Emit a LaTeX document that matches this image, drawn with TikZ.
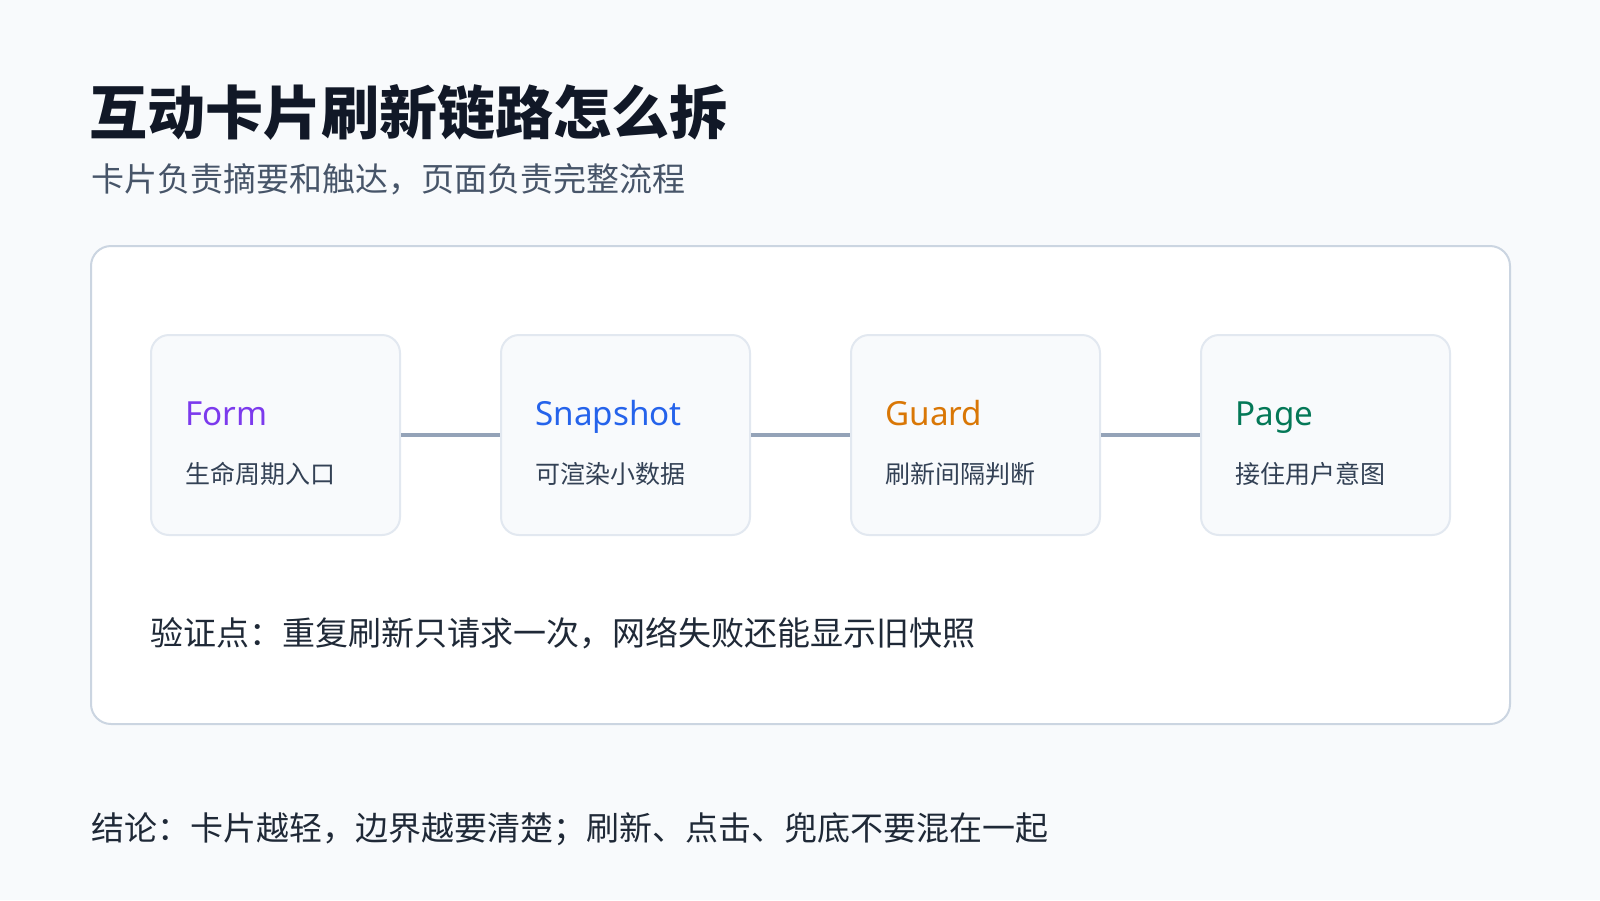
\documentclass[tikz,border=0pt]{standalone}
\usepackage{fontspec}
\setmainfont{Noto Sans CJK SC}
\newfontfamily\latinfont{Noto Sans}
\definecolor{pagebg}{HTML}{F8FAFC}
\definecolor{panelline}{HTML}{CBD5E1}
\definecolor{cardline}{HTML}{E2E8F0}
\definecolor{linkcol}{HTML}{94A3B8}
\definecolor{headcol}{HTML}{111827}
\definecolor{subcol}{HTML}{475569}
\definecolor{notecol}{HTML}{334155}
\definecolor{textcol}{HTML}{1F2937}
\definecolor{formcol}{HTML}{7C3AED}
\definecolor{snapcol}{HTML}{2563EB}
\definecolor{guardcol}{HTML}{D97706}
\definecolor{pagecol}{HTML}{047857}
\tikzset{card/.style = {shape=rectangle,draw=cardline,fill=pagebg,line width=1pt,rounded corners=9pt,minimum width=124.5pt,minimum height=100pt}}
\tikzset{link/.style = {draw=linkcol,line width=2pt}}
\tikzset{cardname/.style = {anchor=base west,inner sep=0pt,font=\latinfont\fontsize{16.6}{20}\selectfont}}
\tikzset{cardnote/.style = {anchor=west,inner sep=0pt,text=notecol,font=\fontsize{12.5}{15}\selectfont}}
\tikzset{line/.style = {anchor=west,inner sep=0pt,text=textcol,font=\fontsize{16.5}{20}\selectfont}}

\begin{document}
\begin{tikzpicture}[x=0.5pt,y=-0.5pt]
          \fill[pagebg] (0,0) rectangle (1600,900);

          \node[anchor=west,inner sep=0pt,text=headcol,font=\bfseries\fontsize{29}{34}\selectfont] (title) at (89,112) {互动卡片刷新链路怎么拆};
          \node[anchor=west,inner sep=0pt,text=subcol,font=\fontsize{16.5}{20}\selectfont] (subtitle) at (91,179) {卡片负责摘要和触达，页面负责完整流程};

          \node[draw=panelline,fill=white,line width=1pt,rounded corners=10pt,minimum width=709.5pt,minimum height=239pt] (panel) at (800.5,485) {};

          \node[card] (form) at (275.5,435) {};
          \node[card] (snapshot) at (625.5,435) {};
          \node[card] (guard) at (975.5,435) {};
          \node[card] (page) at (1325.5,435) {};

          \path[link] (form) edge (snapshot);
          \path[link] (snapshot) edge (guard);
          \path[link] (guard) edge (page);

          \node[cardname,text=formcol] (formname) at (185,425) {Form};
          \node[cardname,text=snapcol] (snapname) at (535,425) {Snapshot};
          \node[cardname,text=guardcol] (guardname) at (885,425) {Guard};
          \node[cardname,text=pagecol] (pagename) at (1235,425) {Page};

          \node[cardnote] (formnote) at (185,474) {生命周期入口};
          \node[cardnote] (snapnote) at (535,474) {可渲染小数据};
          \node[cardnote] (guardnote) at (885,474) {刷新间隔判断};
          \node[cardnote] (pagenote) at (1235,474) {接住用户意图};

          \node[line] (check) at (150,633) {验证点：重复刷新只请求一次，网络失败还能显示旧快照};
          \node[line] (summary) at (91,829) {结论：卡片越轻，边界越要清楚；刷新、点击、兜底不要混在一起};
        \end{tikzpicture}
\end{document}
